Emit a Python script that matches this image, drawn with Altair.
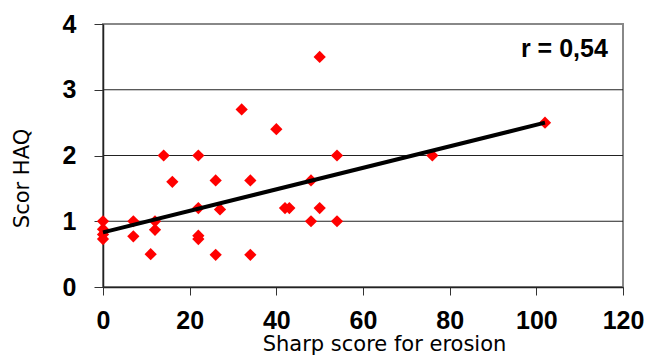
import altair as alt
import pandas as pd

# Sharp erosion score vs HAQ score, one entry per patient
sharp = [0, 0, 0, 0, 7, 7, 11, 12, 12, 14, 16, 22, 22, 22, 22, 26, 26, 27,
         32, 34, 34, 40, 42, 43, 48, 48, 50, 50, 54, 54, 76, 102]
haq = [1.0, 0.88, 0.8, 0.73, 1.0, 0.77, 0.5, 1.0, 0.87, 2.0, 1.6, 2.0, 1.2,
       0.78, 0.73, 1.62, 0.49, 1.18, 2.7, 1.62, 0.49, 2.4, 1.2, 1.2, 1.62,
       1.0, 3.5, 1.2, 2.0, 1.0, 2.0, 2.5]

# Fitted trend line end points
trend_x = [0, 102]
trend_y = [0.83, 2.5]

grid_levels = [1, 2, 3]
x_ticks = [0, 20, 40, 60, 80, 100, 120]
y_ticks = [0, 1, 2, 3, 4]

r_text = ["r = 0,54"]
r_x = [116.5]
r_y = [3.62]

pts = pd.DataFrame({"sharp": sharp, "haq": haq})
trend = pd.DataFrame({"sharp": trend_x, "haq": trend_y})
grid = pd.DataFrame({"level": grid_levels})
note = pd.DataFrame({"label": r_text, "sharp": r_x, "haq": r_y})

xs = alt.Scale(domain=[0, 120], nice=False, zero=False)
ys = alt.Scale(domain=[0, 4], nice=False, zero=False)

x_axis = alt.Axis(
    values=x_ticks, title="Sharp score for erosion", grid=False,
    labelFont="Liberation Sans", labelFontSize=25, labelFontWeight="bold",
    labelColor="#000", labelPadding=13, tickSize=8, tickColor="#333",
    domainColor="#222", domainWidth=1.5,
    titleFont="DejaVu Sans", titleFontSize=21, titleFontWeight="normal",
    titleColor="#000", titleX=281, titleY=63, titleBaseline="alphabetic",
    titleAlign="center", labelFlush=False, labelOverlap=False,
)
y_axis = alt.Axis(
    values=y_ticks, title="Scor HAQ", grid=False,
    labelFont="Liberation Sans", labelFontSize=25, labelFontWeight="bold",
    labelColor="#000", labelPadding=18, tickSize=9, tickColor="#333",
    domainColor="#222", domainWidth=1.5,
    titleFont="DejaVu Sans", titleFontSize=21, titleFontWeight="normal",
    titleColor="#000", titleAngle=-90, titleX=-81, titleY=154,
    titleAlign="center", titleBaseline="middle", labelFlush=False,
)

grid_layer = alt.Chart(grid).mark_rule(color="#222", strokeWidth=1.2).encode(
    y=alt.Y("level:Q", scale=ys, axis=y_axis),
)

points = alt.Chart(pts).mark_point(
    shape="diamond", filled=True, color="#ff0000", size=150, opacity=1
).encode(
    x=alt.X("sharp:Q", scale=xs, axis=x_axis),
    y=alt.Y("haq:Q", scale=ys, axis=y_axis),
)

line = alt.Chart(trend).mark_line(color="#000", strokeWidth=4).encode(
    x=alt.X("sharp:Q", scale=xs, axis=x_axis),
    y=alt.Y("haq:Q", scale=ys, axis=y_axis),
)

label = alt.Chart(note).mark_text(
    font="Liberation Sans", fontSize=25, fontWeight="bold", color="#000",
    align="right", baseline="middle"
).encode(
    x=alt.X("sharp:Q", scale=xs, axis=x_axis),
    y=alt.Y("haq:Q", scale=ys, axis=y_axis),
    text="label:N",
)

chart = alt.layer(grid_layer, points, line, label).properties(
    width=520, height=263,
    autosize=alt.AutoSizeParams(type="none"),
    padding={"left": 103, "top": 24, "right": 26, "bottom": 73},
    background="white",
).configure_view(stroke="#888", strokeWidth=2)

chart.save("out.html", embed_options={"renderer": "svg", "actions": False})
